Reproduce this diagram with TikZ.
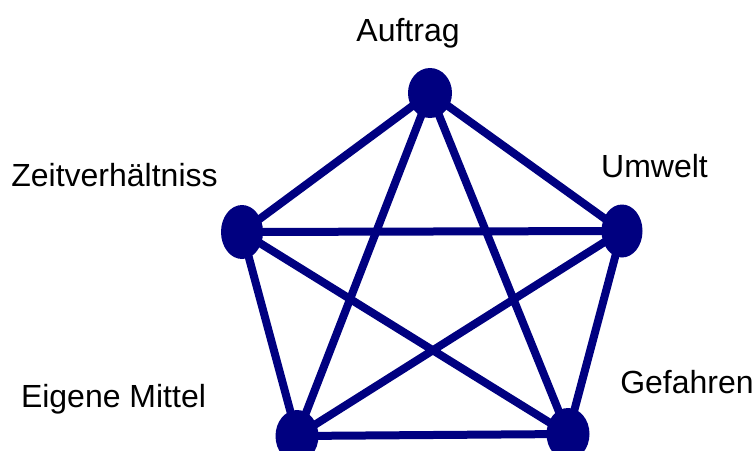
\documentclass[tikz,border=0pt]{standalone}
\usepackage{fontspec}
\setmainfont{Liberation Sans}
\usetikzlibrary{shapes.geometric}
\begin{document}
\begin{tikzpicture}[x=1pt,y=-1pt,
  vert/.style={ellipse,fill=navyc,inner sep=0pt},
  edge/.style={draw=navyc,line width=8pt},
  lbl/.style={inner sep=0pt,font=\fontsize{32}{38}\selectfont}]
\definecolor{navyc}{RGB}{0,0,128}
\useasboundingbox (0,0) rectangle (755,450);
\begin{scope}
\clip (0,0) rectangle (755,450);
\coordinate (A) at (430,93);
\coordinate (L) at (242,232);
\coordinate (R) at (622,231);
\coordinate (BL) at (297,436);
\coordinate (BR) at (568,434);
\draw[edge] (A) -- (L) (A) -- (R) (A) -- (BL) (A) -- (BR)
  (L) -- (R) (L) -- (BL) (L) -- (BR)
  (R) -- (BL) (R) -- (BR) (BL) -- (BR);
\node[vert,minimum width=44pt,minimum height=50pt] (nA) at (A) {};
\node[vert,minimum width=42pt,minimum height=54pt] (nL) at (L) {};
\node[vert,minimum width=41pt,minimum height=53pt] (nR) at (R) {};
\node[vert,minimum width=43pt,minimum height=52pt] (nBL) at (BL) {};
\node[vert,minimum width=43pt,minimum height=52pt] (nBR) at (BR) {};
\end{scope}
\node[lbl,anchor=base] (tA) at (408,41) {Auftrag};
\node[lbl,anchor=base] (tL) at (114.5,186) {Zeitverhältniss};
\node[lbl,anchor=base west] (tR) at (601,177) {Umwelt};
\node[lbl,anchor=base] (tBL) at (113.5,407) {Eigene Mittel};
\node[lbl,anchor=base] (tBR) at (687,393) {Gefahren};
\end{tikzpicture}
\end{document}
